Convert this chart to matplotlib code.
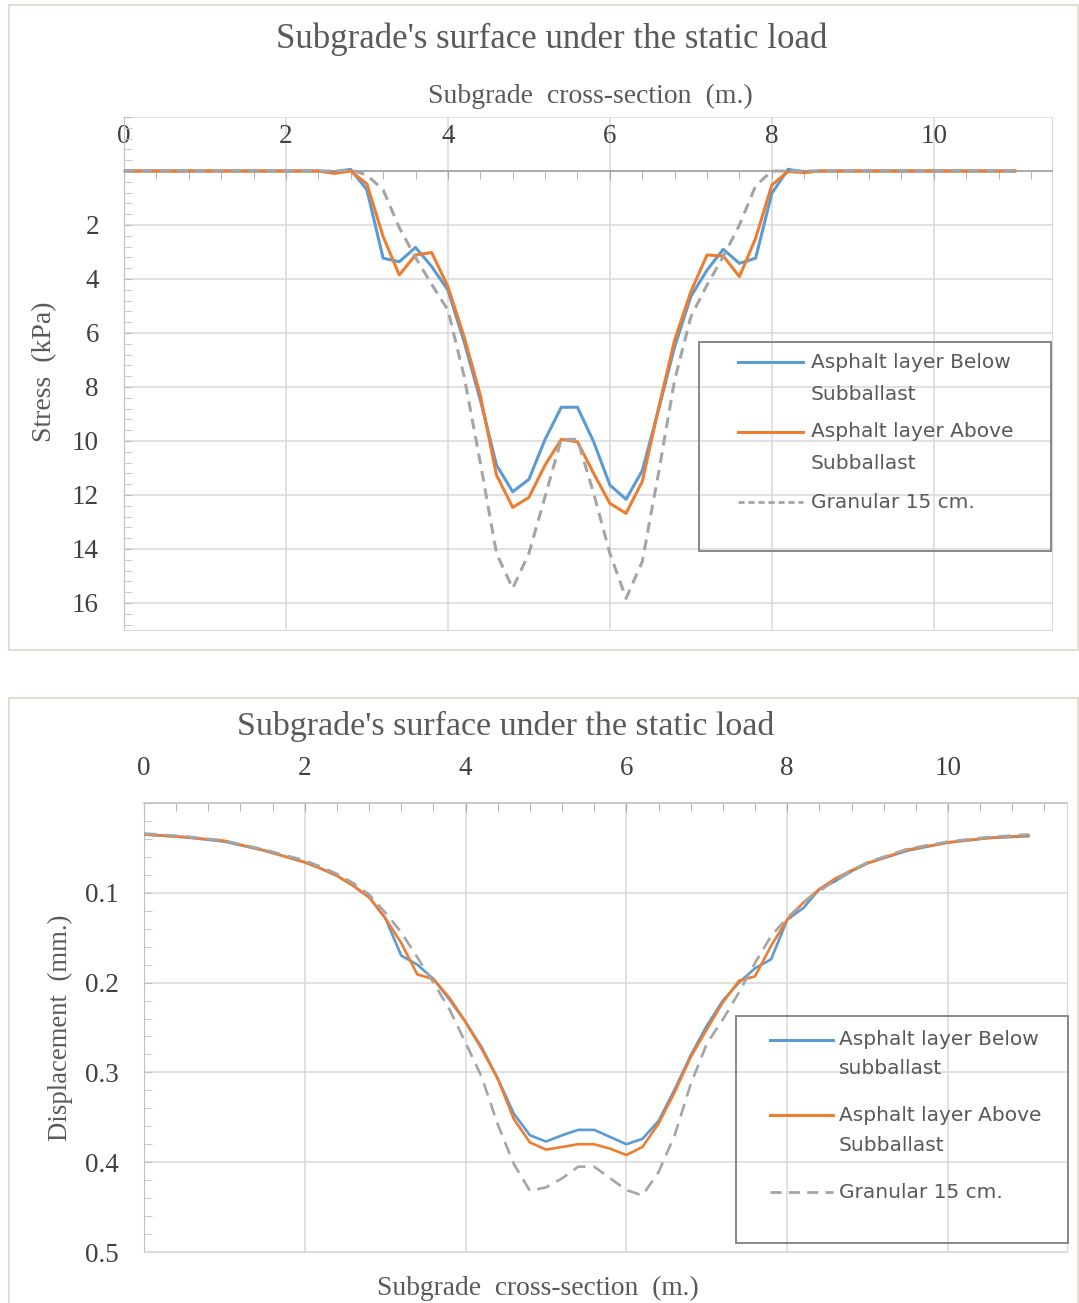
import matplotlib
matplotlib.use("Agg")
import matplotlib.pyplot as plt
from matplotlib.patches import Rectangle
from matplotlib.lines import Line2D
from matplotlib.ticker import MultipleLocator

plt.rcParams['font.family'] = ['Liberation Serif', 'DejaVu Serif']

# ---- data: stress (top chart) ----
x_stress = [0, 1, 2, 2.4,
            2.6, 2.8, 3.0, 3.2, 3.4, 3.6, 3.8, 4.0, 4.2, 4.4,
            4.6, 4.8, 5.0, 5.2, 5.4, 5.6, 5.8, 6.0, 6.2, 6.4,
            6.6, 6.8, 7.0, 7.2, 7.4, 7.6, 7.8, 8.0, 8.2, 8.4,
            8.6, 9, 10, 11]
stress_below = [0, 0, 0, 0,
                0.05, -0.06, 0.70, 3.23, 3.36, 2.83, 3.54, 4.41, 6.32, 8.48,
                10.89, 11.88, 11.42, 9.94, 8.75, 8.75, 10.03, 11.63, 12.16, 11.10,
                8.85, 6.51, 4.65, 3.67, 2.90, 3.42, 3.23, 0.83, -0.06, 0.03,
                0, 0, 0, 0]
stress_above = [0, 0, 0, 0,
                0.09, 0.0, 0.48, 2.43, 3.85, 3.11, 3.02, 4.28, 6.14, 8.30,
                11.26, 12.46, 12.09, 10.89, 9.94, 10.03, 11.20, 12.31, 12.68, 11.50,
                8.80, 6.26, 4.47, 3.11, 3.15, 3.91, 2.49, 0.52, 0.02, 0.06,
                0, 0, 0, 0]
stress_granular = [0, 0, 0, 0,
                   0.0, -0.05, 0.15, 0.70, 2.10, 3.20, 4.20, 5.15, 7.60, 10.80,
                   14.16, 15.46, 14.16, 12.06, 9.94, 9.94, 11.94, 14.16, 15.83, 14.47,
                   11.20, 7.74, 5.40, 4.22, 3.17, 2.00, 0.55, 0.0, 0.0, 0.0,
                   0, 0, 0, 0]

# ---- data: displacement (bottom chart) ----
x_disp = [0, 0.5, 1, 1.5,
          2.0, 2.2, 2.4, 2.6, 2.8, 3.0, 3.2, 3.4, 3.6, 3.8,
          4.0, 4.2, 4.4, 4.6, 4.8, 5.0, 5.2, 5.4, 5.6, 5.8,
          6.0, 6.2, 6.4, 6.6, 6.8, 7.0, 7.2, 7.4, 7.6, 7.8,
          8.0, 8.2, 8.4, 8.6, 8.8, 9.0,
          9.5, 10, 10.5, 11]
disp_below = [0.035, 0.038, 0.043, 0.053,
              0.066, 0.073, 0.081, 0.092, 0.105, 0.128, 0.170, 0.180, 0.196, 0.219,
              0.244, 0.272, 0.307, 0.346, 0.370, 0.377, 0.370, 0.364, 0.364, 0.372,
              0.380, 0.374, 0.354, 0.319, 0.281, 0.248, 0.220, 0.200, 0.184, 0.174,
              0.130, 0.117, 0.096, 0.087, 0.076, 0.067,
              0.053, 0.044, 0.039, 0.037]
disp_above = [0.035, 0.038, 0.042, 0.053,
              0.066, 0.073, 0.081, 0.092, 0.105, 0.128, 0.156, 0.191, 0.196, 0.217,
              0.244, 0.274, 0.307, 0.352, 0.378, 0.386, 0.383, 0.380, 0.380, 0.385,
              0.392, 0.383, 0.357, 0.322, 0.283, 0.252, 0.222, 0.198, 0.193, 0.159,
              0.130, 0.111, 0.096, 0.084, 0.075, 0.067,
              0.052, 0.044, 0.039, 0.036]
disp_granular = [0.034, 0.037, 0.042, 0.052,
                 0.064, 0.071, 0.079, 0.089, 0.102, 0.122, 0.144, 0.172, 0.200, 0.230,
                 0.267, 0.305, 0.358, 0.402, 0.432, 0.428, 0.418, 0.405, 0.405, 0.418,
                 0.431, 0.437, 0.411, 0.370, 0.313, 0.268, 0.241, 0.211, 0.178, 0.148,
                 0.128, 0.111, 0.098, 0.086, 0.075, 0.066,
                 0.051, 0.043, 0.038, 0.035]

title = "Subgrade's surface under the static load"
xlab = "Subgrade  cross-section  (m.)"
BLUE, ORANGE, GRAY = '#5B9BD5', '#ED7D31', '#A5A5A5'
GRID = '#D9D9D9'
TXT = '#595959'
TICK = '#404040'

W, H = 1079, 1303
fig = plt.figure(figsize=(W / 100, H / 100), dpi=100)

# outer chart boxes
fig.patches.append(Rectangle((9 / W, 1 - 650 / H), 1069 / W, 645 / H, transform=fig.transFigure,
                             fill=False, ec='#dcd8c6', lw=1.2))
fig.patches.append(Rectangle((9 / W, -0.01), 1069 / W, 1 - 698 / H + 0.01, transform=fig.transFigure,
                             fill=False, ec='#dcd8c6', lw=1.2))


def draw_legend(ax, frame, hx, tx, rows, dash):
    # frame = (x0, y0, x1, y1) in axes fraction
    ax.add_patch(Rectangle((frame[0], frame[1]), frame[2] - frame[0], frame[3] - frame[1],
                           transform=ax.transAxes, fill=False, ec='#7F7F7F', lw=1.3,
                           clip_on=False, zorder=5))
    for y, text, color in rows:
        if color == BLUE or color == ORANGE:
            ax.add_line(Line2D(hx, [y, y], transform=ax.transAxes, color=color, lw=2.2,
                               clip_on=False, zorder=5))
        elif color == GRAY:
            ax.add_line(Line2D(hx, [y, y], transform=ax.transAxes, color=color, lw=2.0,
                               dashes=dash, clip_on=False, zorder=5))
        ax.text(tx, y, text, transform=ax.transAxes, ha='left', va='center',
                fontsize=14.5, color=TXT, family=['DejaVu Sans'], zorder=5)


def style_axes(ax, xmax, ylim, yticks, ylabels, yminor, spine_y):
    ax.set_xlim(0, xmax)
    ax.set_ylim(*ylim)
    ax.set_xticks([0, 2, 4, 6, 8, 10])
    ax.xaxis.set_minor_locator(MultipleLocator(0.4))
    ax.set_yticks(yticks)
    ax.set_yticklabels(ylabels)
    ax.yaxis.set_minor_locator(MultipleLocator(yminor))
    ax.grid(True, which='major', color=GRID, lw=1.1)
    ax.set_axisbelow(True)
    ax.xaxis.set_ticks_position('top')
    ax.spines['top'].set_position(('data', spine_y))
    ax.spines['top'].set_color('#A6A6A6')
    ax.spines['top'].set_linewidth(1.3)
    ax.spines['left'].set_color('#BFBFBF')
    ax.spines['bottom'].set_color(GRID)
    ax.spines['right'].set_color(GRID)
    ax.tick_params(axis='x', which='both', direction='in', length=6, color='#A6A6A6',
                   labelsize=19.5, labelcolor=TICK, pad=16)
    ax.tick_params(axis='y', which='both', direction='in', length=6, color='#BFBFBF',
                   labelsize=19.5, labelcolor=TICK, pad=18)


# ---- top chart ----
ax1 = fig.add_axes([124 / W, 1 - 630 / H, 928 / W, 513 / H])
ax1.plot(x_stress, stress_below, color=BLUE, lw=2.2, zorder=3)
ax1.plot(x_stress, stress_above, color=ORANGE, lw=2.2, zorder=3)
ax1.plot(x_stress, stress_granular, color=GRAY, lw=2.2, dashes=(3.5, 2.3), zorder=3)
style_axes(ax1, 11.46, (17, -2), [-2, 0, 2, 4, 6, 8, 10, 12, 14, 16],
           ['', '', '2', '4', '6', '8', '10', '12', '14', '16'], 0.4, 0)
draw_legend(ax1, (0.6196, 0.154, 0.999, 0.5614), (0.6616, 0.7317), 0.7403,
            [(0.5224, 'Asphalt layer Below', BLUE), (0.46, 'Subballast', None),
             (0.386, 'Asphalt layer Above', ORANGE), (0.3236, 'Subballast', None),
             (0.2495, 'Granular 15 cm.', GRAY)], (2.2, 1.4))

fig.text(552 / W, 1 - 39 / H, title, ha='center', va='center', fontsize=25, color=TXT)
fig.text(590 / W, 1 - 96 / H, xlab, ha='center', va='center', fontsize=20, color=TXT)
fig.text(45 / W, 1 - 372 / H, "Stress  (kPa)", ha='center', va='center', rotation=90,
         fontsize=20, color=TXT)

# ---- bottom chart ----
ax2 = fig.add_axes([144 / W, 1 - 1252 / H, 923 / W, 449 / H])
ax2.plot(x_disp, disp_below, color=BLUE, lw=1.9, zorder=3)
ax2.plot(x_disp, disp_above, color=ORANGE, lw=1.9, zorder=3)
ax2.plot(x_disp, disp_granular, color=GRAY, lw=1.9, dashes=(4.9, 3.0), zorder=3)
style_axes(ax2, 11.48, (0.5, 0.0), [0, 0.1, 0.2, 0.3, 0.4, 0.5],
           ['', '0.1', '0.2', '0.3', '0.4', '0.5'], 0.02, 0.0)
ax2.spines['top'].set_color('#BFBFBF')
ax2.spines['top'].set_linewidth(1.1)
draw_legend(ax2, (0.6414, 0.02, 1.001, 0.5256), (0.6782, 0.7465), 0.753,
            [(0.4722, 'Asphalt layer Below', BLUE), (0.4076, 'subballast', None),
             (0.3051, 'Asphalt layer Above', ORANGE), (0.2383, 'Subballast', None),
             (0.1336, 'Granular 15 cm.', GRAY)], (4.0, 2.6))

fig.text(506 / W, 1 - 726 / H, title, ha='center', va='center', fontsize=24.5, color=TXT)
fig.text(538 / W, 1 - 1288 / H, xlab, ha='center', va='center', fontsize=19.8, color=TXT)
fig.text(60 / W, 1 - 1028 / H, "Displacement  (mm.)", ha='center', va='center', rotation=90,
         fontsize=19.3, color=TXT)

fig.savefig("out.png", dpi=100)
